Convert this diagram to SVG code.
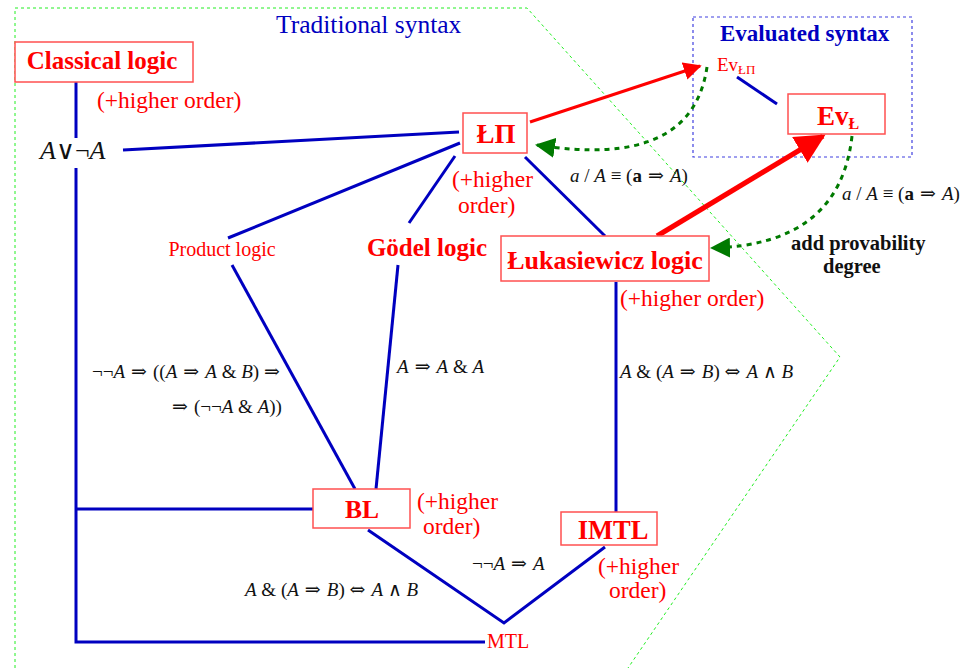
<svg xmlns="http://www.w3.org/2000/svg" width="963" height="668" viewBox="0 0 963 668">
<style>
text{font-family:"Liberation Serif","Times New Roman",serif}
.rb{fill:#ff0000;font-weight:bold}
.r{fill:#ff0000}
.m{fill:#111;font-style:italic}
.n{font-style:normal}
.op{font-style:normal;font-family:"DejaVu Serif","Liberation Serif",serif}
.box{fill:#fff;stroke:#ff5050;stroke-width:1.5}
.bl{stroke:#0000c0;stroke-width:3;fill:none}
.ra{stroke:#ff0000;fill:none}
.ga{stroke:#007a00;stroke-width:3;stroke-dasharray:5 5;fill:none}
</style>
<defs>
<marker id="rh" viewBox="0 0 10 10" refX="9" refY="5" markerWidth="6" markerHeight="6" orient="auto">
<path d="M0,0 L10,5 L0,10 z" fill="#ff0000"/>
</marker>
<marker id="gh" viewBox="0 0 10 10" refX="9" refY="5" markerWidth="20" markerHeight="20" markerUnits="userSpaceOnUse" orient="auto">
<path d="M0,0 L10,5 L0,10 z" fill="#007a00"/>
</marker>
</defs>
<rect width="963" height="668" fill="#fff"/>
<g id="regions">
<polyline points="15,668 15,8 527,8 840,357 628,668" fill="none" stroke="#22ee22" stroke-width="1" stroke-dasharray="3 3"/>
<text x="276" y="33" font-size="25.5" fill="#0000c0">Traditional syntax</text>
<rect x="693" y="17" width="219" height="140" fill="none" stroke="#4040e0" stroke-width="1.2" stroke-dasharray="3 3"/>
<text x="720" y="41" font-size="23" font-weight="bold" fill="#0000c0">Evaluated syntax</text>
</g>
<g id="connectors">
<polyline class="bl" points="76,82 76,138"/>
<polyline class="bl" points="76,168 76,642 485,642"/>
<line class="bl" x1="76" y1="509" x2="313" y2="509"/>
<line class="bl" x1="123" y1="150" x2="459" y2="132"/>
<line class="bl" x1="460" y1="143" x2="228" y2="238"/>
<line class="bl" x1="455" y1="156" x2="409" y2="223"/>
<line class="bl" x1="525" y1="157" x2="605" y2="236"/>
<line class="bl" x1="232" y1="265" x2="355" y2="489"/>
<line class="bl" x1="398" y1="265" x2="376" y2="489"/>
<line class="bl" x1="616" y1="282" x2="616" y2="512"/>
<polyline class="bl" points="368,530 504,623 605,547"/>
<line class="bl" x1="737" y1="77" x2="777" y2="104"/>
<line class="ra" stroke-width="3" x1="530" y1="122" x2="700" y2="66" marker-end="url(#rh)"/>
<line class="ra" stroke-width="5" x1="657" y1="236" x2="823" y2="136" marker-end="url(#rh)"/>
<path class="ga" d="M707,67 Q692,170 537,145" marker-end="url(#gh)"/>
<path class="ga" d="M852,136 Q840,245 712,248" marker-end="url(#gh)"/>
</g>
<g id="classical">
<rect class="box" x="15" y="42" width="178" height="40"/>
<text class="rb" x="102" y="69" text-anchor="middle" font-size="25">Classical logic</text>
<text class="r" x="97" y="108" font-size="23.5">(+higher order)</text>
</g>
<g id="lem">
<text class="m" x="40" y="159" font-size="26">A<tspan class="n">∨¬</tspan>A</text>
</g>
<g id="LPi">
<rect class="box" x="463" y="113" width="64" height="40"/>
<text class="rb" x="496" y="143" text-anchor="middle" font-size="27">ŁΠ</text>
<text class="r" x="452" y="187" font-size="23.5">(+higher</text>
<text class="r" x="458" y="213" font-size="23.5">order)</text>
</g>
<g id="product">
<text class="r" x="222" y="256" text-anchor="middle" font-size="20">Product logic</text>
</g>
<g id="godel">
<text class="rb" x="427" y="256" text-anchor="middle" font-size="25">Gödel logic</text>
</g>
<g id="lukasiewicz">
<rect class="box" x="501" y="236" width="208" height="45"/>
<text class="rb" x="605" y="269" text-anchor="middle" font-size="26">Łukasiewicz logic</text>
<text class="r" x="620" y="306" font-size="23.5">(+higher order)</text>
</g>
<g id="BL">
<rect class="box" x="313" y="489" width="97" height="39"/>
<text class="rb" x="362" y="518" text-anchor="middle" font-size="25.5">BL</text>
<text class="r" x="417" y="509" font-size="23.5">(+higher</text>
<text class="r" x="423" y="534" font-size="23.5">order)</text>
</g>
<g id="IMTL">
<rect class="box" x="561" y="512" width="96" height="33"/>
<text class="rb" x="613" y="539" text-anchor="middle" font-size="26.5">IMTL</text>
<text class="r" x="598" y="574" font-size="23.5">(+higher</text>
<text class="r" x="609" y="598" font-size="23.5">order)</text>
</g>
<g id="MTL">
<text class="r" x="487" y="648" font-size="20">MTL</text>
</g>
<g id="EvLPi">
<text class="r" x="717" y="71" font-size="19">Ev<tspan font-size="13" dy="3">ŁΠ</tspan></text>
</g>
<g id="EvL">
<rect class="box" x="788" y="94" width="97" height="40"/>
<text class="rb" x="817" y="125" font-size="27">Ev<tspan font-size="16" dy="4">Ł</tspan></text>
</g>
<g id="labels">
<text class="m" x="92" y="378" font-size="19"><tspan class="n">¬¬</tspan>A<tspan class="op"> ⇒ </tspan><tspan class="n">((</tspan>A<tspan class="op"> ⇒ </tspan>A<tspan class="n"> &amp; </tspan>B<tspan class="n">) </tspan><tspan class="op">⇒</tspan></text>
<text class="m" x="172" y="413" font-size="19"><tspan class="op">⇒ </tspan><tspan class="n">(¬¬</tspan>A<tspan class="n"> &amp; </tspan>A<tspan class="n">))</tspan></text>
<text class="m" x="397" y="373" font-size="19">A<tspan class="op"> ⇒ </tspan>A<tspan class="n"> &amp; </tspan>A</text>
<text class="m" x="620" y="378" font-size="19">A<tspan class="n"> &amp; (</tspan>A<tspan class="op"> ⇒ </tspan>B<tspan class="n">) </tspan><tspan class="op">⇔ </tspan>A<tspan class="n"> ∧ </tspan>B</text>
<text class="m" x="245" y="596" font-size="19">A<tspan class="n"> &amp; (</tspan>A<tspan class="op"> ⇒ </tspan>B<tspan class="n">) </tspan><tspan class="op">⇔ </tspan>A<tspan class="n"> ∧ </tspan>B</text>
<text class="m" x="472" y="570" font-size="19"><tspan class="n">¬¬</tspan>A<tspan class="op"> ⇒ </tspan>A</text>
<text class="m" x="570" y="182" font-size="19">a<tspan class="n"> / </tspan>A<tspan class="n"> ≡ (</tspan><tspan class="n" font-weight="bold">a</tspan><tspan class="op"> ⇒ </tspan>A<tspan class="n">)</tspan></text>
<text class="m" x="842" y="200" font-size="19">a<tspan class="n"> / </tspan>A<tspan class="n"> ≡ (</tspan><tspan class="n" font-weight="bold">a</tspan><tspan class="op"> ⇒ </tspan>A<tspan class="n">)</tspan></text>
<text x="791" y="250" font-size="20.5" font-weight="bold" fill="#111">add provability</text>
<text x="823" y="273" font-size="20.5" font-weight="bold" fill="#111">degree</text>
</g>
</svg>
